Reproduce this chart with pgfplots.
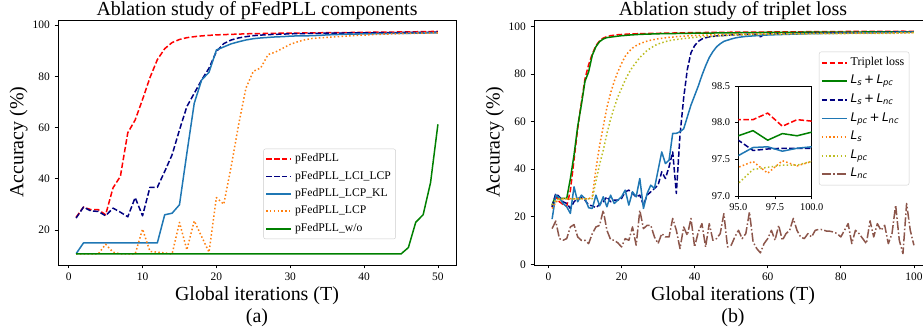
\documentclass[border=0pt]{standalone}
\usepackage{pgfplots}
\pgfplotsset{compat=1.18}
\usepackage{pgfplotstable}
\usepackage{fontspec}
\setmainfont{Liberation Serif}
\newfontfamily\dv{DejaVu Sans}
\definecolor{tabblue}{HTML}{1F77B4}
\definecolor{taborange}{HTML}{FF7F0E}
\definecolor{tabolive}{HTML}{BCBD22}
\definecolor{tabbrown}{HTML}{8C564B}
\definecolor{mplgreen}{HTML}{008000}
\definecolor{mplnavy}{HTML}{000080}
\definecolor{mplred}{HTML}{FF0000}
\newcommand{\Lx}[1]{{\dv\itshape L}\raisebox{-2bp}{\dv\itshape\fontsize{8.4}{9}\selectfont #1}}
\newcommand{\Pl}{\hspace{2.4bp}{\dv +}\hspace{2.4bp}}

\pgfplotstableread{
x a b c d e
1 25.0 24.7 10.8 10.7 10.7
2 29.0 29.0 15.0 10.7 10.7
3 28.0 27.5 15.0 10.7 10.7
4 28.0 27.3 15.0 10.7 10.7
5 26.0 25.6 15.0 14.5 10.7
6 36.5 28.6 15.0 11.4 10.7
7 41.0 27.0 15.0 10.7 10.7
8 58.0 25.2 15.0 10.7 10.7
9 63.0 32.7 15.0 10.7 10.7
10 71.0 25.6 15.0 20.4 10.7
11 79.5 36.7 15.0 11.7 10.7
12 86.5 36.7 15.0 11.4 10.7
13 90.8 42.9 26.0 11.1 10.7
14 93.2 49.4 26.6 10.7 10.7
15 94.4 59.1 29.9 23.0 10.7
16 95.1 68.2 50.0 12.3 10.7
17 95.5 73.4 69.5 23.6 10.7
18 95.8 78.6 78.6 17.5 10.7
19 96.0 83.2 81.6 11.4 10.7
20 96.2 89.7 90.3 32.7 10.7
21 96.3 92.8 91.5 30.1 10.7
22 96.4 94.2 92.7 44.8 10.7
23 96.5 95.0 93.5 61.0 10.7
24 96.6 95.5 94.2 75.4 10.7
25 96.7 95.9 94.7 82.0 10.7
26 96.7 96.1 95.0 83.3 10.7
27 96.8 96.3 95.2 88.5 10.7
28 96.8 96.4 95.4 89.5 10.7
29 96.9 96.5 95.5 91.0 10.7
30 96.9 96.6 95.7 92.5 10.7
31 96.9 96.7 95.8 93.5 10.7
32 97.0 96.7 95.8 94.3 10.7
33 97.0 96.8 95.9 94.8 10.7
34 97.0 96.8 96.0 95.0 10.7
35 97.1 96.9 96.2 95.2 10.7
36 97.1 96.9 96.3 95.4 10.7
37 97.1 96.9 96.4 95.6 10.7
38 97.1 97.0 96.5 95.8 10.7
39 97.2 97.0 96.5 96.0 10.7
40 97.2 97.0 96.6 96.1 10.7
41 97.2 97.0 96.6 96.3 10.7
42 97.3 97.1 96.7 96.4 10.7
43 97.3 97.1 96.7 96.5 10.7
44 97.3 97.1 96.8 96.6 10.7
45 97.4 97.1 96.8 96.7 10.7
46 97.4 97.2 96.8 96.8 13.2
47 97.4 97.2 96.9 96.8 23.1
48 97.5 97.2 96.9 96.9 26.0
49 97.5 97.2 97.0 96.9 38.5
50 97.6 97.3 97.0 97.0 61.3
}\ltab

\pgfplotstableread{
x tl spc snc pcnc s pc nc
1 24.2 24.9 24.2 19.0 23.5 25.0 15.0
2 28.4 29.1 29.8 29.1 26.0 27.0 18.2
3 26.3 27.7 28.4 28.0 27.5 27.4 10.8
4 25.2 27.7 26.3 25.6 27.6 27.5 10.1
5 24.5 27.7 25.6 24.2 27.5 27.5 10.8
6 31.0 36.0 23.5 21.4 27.6 27.4 15.7
7 44.0 46.0 26.3 32.6 27.5 27.5 16.7
8 57.0 58.0 27.7 26.3 27.5 27.6 11.5
9 68.0 67.0 28.0 29.1 27.6 27.5 10.1
10 78.0 77.0 27.0 27.7 27.5 27.5 10.1
11 84.0 81.0 24.9 23.8 27.5 27.5 8.7
12 88.5 88.0 24.6 23.5 28.5 27.6 12.9
13 92.0 91.6 23.8 29.1 40.0 35.0 15.7
14 94.0 93.7 25.2 24.6 50.0 42.0 16.4
15 95.2 94.8 26.3 28.4 58.0 48.0 22.7
16 95.8 95.4 28.4 24.2 66.0 55.0 14.3
17 96.2 95.6 26.3 29.1 72.0 61.0 10.4
18 96.4 95.8 27.0 25.6 77.0 66.0 10.1
19 96.6 96.0 27.0 27.0 81.0 70.5 9.0
20 96.7 96.2 27.7 28.4 84.5 74.0 7.3
21 96.8 96.3 30.5 31.2 87.5 77.5 10.8
22 96.9 96.45 31.2 24.9 89.5 80.5 10.1
23 96.95 96.55 29.8 30.5 91.0 83.0 15.7
24 97.0 96.65 28.4 28.4 92.0 85.0 8.0
25 97.05 96.75 29.1 36.1 92.8 87.0 22.7
26 97.1 96.8 24.9 23.5 93.4 88.5 15.0
27 97.1 96.85 29.1 29.8 93.9 90.0 16.4
28 97.15 96.9 30.5 33.3 94.3 91.0 16.4
29 97.2 96.95 31.9 31.9 94.6 92.0 11.5
30 97.2 97.0 33.3 39.6 94.9 92.7 8.7
31 97.25 97.03 38.9 47.3 95.1 93.2 12.9
32 97.27 97.05 36.1 42.4 95.3 93.7 11.5
33 97.3 97.08 41.0 43.8 95.5 94.1 11.5
34 97.32 97.1 47.3 55.1 95.6 94.4 19.3
35 97.35 97.12 29.8 55.1 95.8 94.6 14.3
36 97.37 97.15 54.4 55.8 95.9 94.8 6.6
37 97.4 97.17 70.0 57.0 96.0 95.0 15.7
38 97.43 97.2 82.0 62.0 96.1 95.15 12.2
39 97.46 97.22 89.0 67.0 96.2 95.3 19.3
40 97.5 97.25 92.0 71.0 96.3 95.5 7.3
41 97.51 97.27 93.8 75.0 96.35 95.6 13.6
42 97.53 97.28 94.8 79.5 96.4 95.7 17.1
43 97.54 97.3 95.3 83.5 96.45 95.8 7.3
44 97.56 97.31 95.7 87.0 96.5 95.85 17.1
45 97.57 97.32 95.9 89.5 96.55 95.9 10.1
46 97.59 97.34 96.1 91.5 96.6 96.0 10.8
47 97.6 97.35 96.2 92.8 96.65 96.1 12.9
48 97.62 97.37 96.3 93.8 96.7 96.2 21.3
49 97.63 97.38 96.4 94.3 96.75 96.3 7.3
50 97.65 97.4 96.5 94.8 96.8 96.4 8.0
51 97.66 97.42 96.55 95.2 96.82 96.44 11.5
52 97.67 97.43 96.6 95.5 96.84 96.48 14.3
53 97.68 97.45 96.65 95.7 96.86 96.52 10.8
54 97.69 97.46 96.7 95.9 96.88 96.56 12.9
55 97.7 97.48 96.7 96.0 96.9 96.6 22.0
56 97.71 97.49 96.75 96.1 96.92 96.64 9.4
57 97.72 97.51 96.8 96.2 96.94 96.68 6.6
58 97.73 97.52 95.7 96.3 96.96 96.72 4.8
59 97.74 97.54 96.8 96.4 96.98 96.76 8.7
60 97.75 97.55 96.9 96.5 97.0 96.8 10.8
61 97.76 97.56 96.93 96.55 97.01 96.82 14.3
62 97.77 97.57 96.96 96.6 97.02 96.84 10.1
63 97.78 97.58 96.99 96.65 97.03 96.86 16.4
64 97.79 97.59 97.02 96.7 97.04 96.88 10.1
65 97.8 97.6 97.05 96.75 97.05 96.9 12.9
66 97.81 97.61 97.08 96.8 97.06 96.92 14.3
67 97.82 97.62 97.11 96.85 97.07 96.94 19.3
68 97.83 97.63 97.14 96.9 97.08 96.96 14.3
69 97.84 97.64 97.17 96.95 97.09 96.98 11.5
70 97.85 97.65 97.2 97.0 97.1 97.0 10.8
71 97.86 97.66 97.22 97.03 97.11 97.01 12.9
72 97.87 97.66 97.24 97.05 97.12 97.02 11.5
73 97.88 97.67 97.26 97.08 97.13 97.03 14.3
74 97.89 97.68 97.28 97.1 97.14 97.04 14.7
75 97.9 97.68 97.3 97.13 97.15 97.05 14.6
76 97.91 97.69 97.32 97.15 97.16 97.06 14.0
77 97.92 97.7 97.34 97.18 97.17 97.07 13.9
78 97.93 97.7 97.36 97.2 97.18 97.08 13.6
79 97.94 97.71 97.38 97.23 97.19 97.09 12.9
80 97.95 97.72 97.4 97.25 97.2 97.1 11.5
81 97.96 97.72 97.42 97.27 97.21 97.11 14.3
82 97.96 97.73 97.43 97.29 97.22 97.12 17.1
83 97.97 97.73 97.45 97.31 97.23 97.13 8.7
84 97.97 97.74 97.46 97.33 97.24 97.14 14.3
85 97.98 97.74 97.48 97.35 97.25 97.15 12.9
86 97.98 97.75 97.49 97.37 97.26 97.16 10.8
87 97.99 97.76 97.51 97.39 97.27 97.17 8.7
88 97.99 97.76 97.52 97.41 97.28 97.18 18.3
89 98.0 97.77 97.54 97.43 97.29 97.19 11.5
90 98.0 97.78 97.55 97.45 97.3 97.2 17.1
91 98.0 97.79 97.56 97.46 97.31 97.2 14.3
92 98.01 97.79 97.57 97.47 97.32 97.2 16.4
93 98.01 97.8 97.58 97.48 97.33 97.2 8.7
94 98.02 97.8 97.6 97.5 97.35 97.2 12.9
95 98.04 97.82 97.76 97.55 97.39 97.17 24.9
96 98.04 97.89 97.62 97.66 97.47 97.36 10.1
97 98.13 97.76 97.64 97.67 97.31 97.39 4.5
98 97.95 97.85 97.65 97.61 97.48 97.42 25.6
99 98.04 97.82 97.65 97.65 97.41 97.42 14.3
100 98.02 97.87 97.65 97.67 97.47 97.47 8.0
}\rtab

\pgfplotsset{
  base/.style={scale only axis, tick align=outside, tick pos=left,
    major tick length=3.5bp,
    axis line style={black, line width=0.8bp},
    every tick/.style={black, line width=0.8bp},
    /pgf/number format/assume math mode=true,
    tick label style={font=\fontsize{11.5}{12}\selectfont},
    xticklabel style={anchor=north, inner sep=0pt, yshift=-4bp},
    yticklabel style={anchor=east, inner sep=0pt, xshift=-4.5bp},
    legend image code/.code={\draw[##1, line width=1.8bp] (0bp,0bp) -- (25bp,0bp);},
    legend cell align=left},
  pdash/.style={line width=1.5bp, dash pattern=on 5.5bp off 2.4bp, line join=round},
  psolid/.style={line width=1.5bp, solid, line join=round},
  pdot/.style={line width=1.5bp, dash pattern=on 1.5bp off 2.3bp, line join=round},
  pdashdot/.style={line width=1.5bp, dash pattern=on 9bp off 2.3bp on 1.5bp off 2.3bp, line join=round},
}

\begin{document}
\begin{tikzpicture}
% ---------- left ----------
\begin{axis}[base, at={(58bp,70bp)}, anchor=south west,
  width=398bp, height=245bp,
  xmin=-1.45, xmax=52.45, ymin=6.4, ymax=102.0,
  xtick={0,10,...,50}, ytick={20,40,...,100},
  legend style={at={(0.516,0.4747)}, anchor=north west, draw=black!20,
    rounded corners=2bp, fill=white, fill opacity=0.8, text opacity=1,
    draw opacity=1, font=\fontsize{11.7}{12}\selectfont,
    inner xsep=1.7bp, inner ysep=1.5bp, row sep=0bp,
    nodes={text height=8.4bp, text depth=3bp, inner ysep=3bp, inner xsep=3bp},
    /tikz/every even column/.append style={column sep=3bp}},
]
\addplot[mplred, pdash] table[x=x,y=a] {\ltab};
\addlegendentry{pFedPLL}
\addplot[mplnavy, pdash] table[x=x,y=b] {\ltab};
\addlegendentry{pFedPLL\_LCI\_LCP}
\addplot[tabblue, psolid] table[x=x,y=c] {\ltab};
\addlegendentry{pFedPLL\_LCP\_KL}
\addplot[taborange, pdot] table[x=x,y=d] {\ltab};
\addlegendentry{pFedPLL\_LCP}
\addplot[mplgreen, psolid] table[x=x,y=e] {\ltab};
\addlegendentry{pFedPLL\_w/o}
\end{axis}
% ---------- right ----------
\begin{axis}[base, at={(534bp,70bp)}, anchor=south west,
  width=398bp, height=245bp,
  xmin=-3.95, xmax=104.95, ymin=-0.3, ymax=102.8,
  xtick={0,20,...,100}, ytick={0,20,...,100},
  legend style={at={(0.716,0.8706)}, anchor=north west, draw=black!20,
    rounded corners=2bp, fill=white, fill opacity=0.8, text opacity=1,
    draw opacity=1, font=\fontsize{12}{12}\selectfont,
    inner xsep=1.7bp, inner ysep=1.5bp, row sep=0bp,
    nodes={text height=9bp, text depth=3.6bp, inner ysep=3bp, inner xsep=3bp},
    /tikz/every even column/.append style={column sep=3bp}},
]
\addplot[mplred, pdash] table[x=x,y=tl] {\rtab};
\addlegendentry{Triplet loss}
\addplot[mplgreen, psolid] table[x=x,y=spc] {\rtab};
\addlegendentry{\Lx{s}\Pl\Lx{pc}}
\addplot[mplnavy, pdash] table[x=x,y=snc] {\rtab};
\addlegendentry{\Lx{s}\Pl\Lx{nc}}
\addplot[tabblue, psolid] table[x=x,y=pcnc] {\rtab};
\addlegendentry{\Lx{pc}\Pl\Lx{nc}}
\addplot[taborange, pdot] table[x=x,y=s] {\rtab};
\addlegendentry{\Lx{s}}
\addplot[tabolive, pdot] table[x=x,y=pc] {\rtab};
\addlegendentry{\Lx{pc}}
\addplot[tabbrown, pdashdot] table[x=x,y=nc] {\rtab};
\addlegendentry{\Lx{nc}}
\end{axis}
% ---------- inset ----------
\begin{axis}[base, at={(738.3bp,139bp)}, anchor=south west,
  width=73.4bp, height=110bp,
  xmin=95, xmax=100, ymin=97, ymax=98.5,
  xtick={95,97.5,100}, ytick={97,97.5,98,98.5},
  tick label style={font=\fontsize{10.4}{11}\selectfont},
  xticklabel={\pgfmathprintnumber[fixed,fixed zerofill,precision=1]{\tick}},
  yticklabel={\pgfmathprintnumber[fixed,fixed zerofill,precision=1]{\tick}},
  axis background/.style={fill=white},
]
\addplot[mplred, pdash] table[x=x,y=tl] {\rtab};
\addplot[mplgreen, psolid] table[x=x,y=spc] {\rtab};
\addplot[mplnavy, pdash] table[x=x,y=snc] {\rtab};
\addplot[tabblue, psolid] table[x=x,y=pcnc] {\rtab};
\addplot[taborange, pdot] table[x=x,y=s] {\rtab};
\addplot[tabolive, pdot] table[x=x,y=pc] {\rtab};
\end{axis}
% ---------- texts ----------
\node[anchor=base, font=\fontsize{20}{24}\selectfont] at (257bp,319.3bp) {Ablation study of pFedPLL components};
\node[anchor=base, font=\fontsize{20}{24}\selectfont] at (733bp,319.3bp) {Ablation study of triplet loss};
\node[anchor=base, font=\fontsize{20}{24}\selectfont] at (257bp,34.6bp) {Global iterations (T)};
\node[anchor=base, font=\fontsize{20}{24}\selectfont] at (733bp,34.6bp) {Global iterations (T)};
\node[anchor=base, font=\fontsize{20}{24}\selectfont] at (257bp,12.6bp) {(a)};
\node[anchor=base, font=\fontsize{20}{24}\selectfont] at (733bp,12.6bp) {(b)};
\node[anchor=base, rotate=90, font=\fontsize{20}{24}\selectfont] at (23.4bp,192.8bp) {Accuracy (\%)};
\node[anchor=base, rotate=90, font=\fontsize{20}{24}\selectfont] at (499.7bp,192.8bp) {Accuracy (\%)};
\pgfresetboundingbox
\path[use as bounding box] (0bp,0bp) rectangle (923bp,335bp);
\end{tikzpicture}
\end{document}
